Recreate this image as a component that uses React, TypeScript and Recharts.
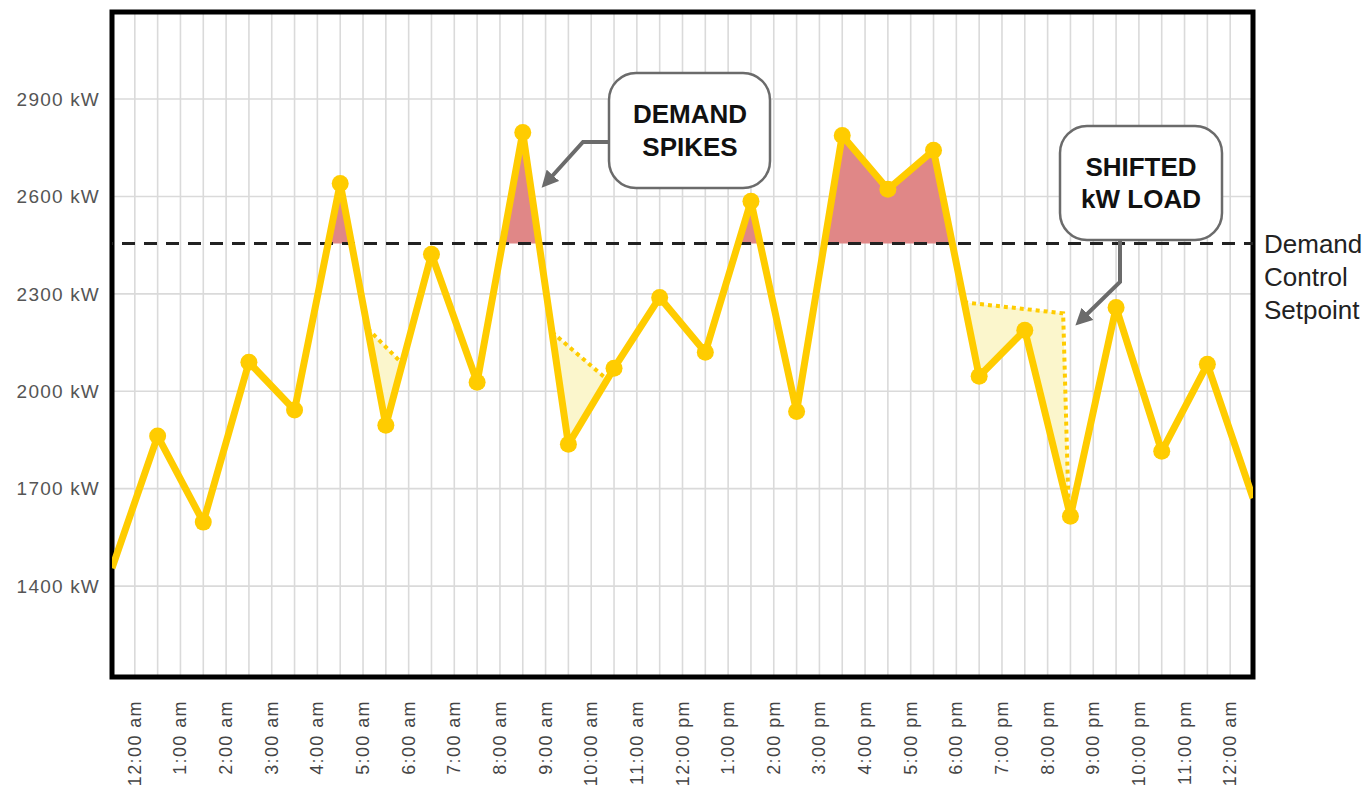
import {
  ComposedChart,
  Line,
  Area,
  XAxis,
  YAxis,
  CartesianGrid,
  ReferenceLine,
  ReferenceArea,
} from "recharts";

const HOURS = [
  "12:00 am", "1:00 am", "2:00 am", "3:00 am", "4:00 am", "5:00 am", "6:00 am",
  "7:00 am", "8:00 am", "9:00 am", "10:00 am", "11:00 am", "12:00 pm", "1:00 pm",
  "2:00 pm", "3:00 pm", "4:00 pm", "5:00 pm", "6:00 pm", "7:00 pm", "8:00 pm",
  "9:00 pm", "10:00 pm", "11:00 pm", "12:00 am",
];

// one reading per hour, on the half hour between the labels
const LOAD_KW = [
  1455, 1862, 1597, 2089, 1942, 2640, 1895, 2422, 2028, 2797, 1837, 2071, 2289,
  2120, 2585, 1938, 2788, 2622, 2742, 2046, 2188, 1615, 2258, 1815, 2083, 1671,
];

const SETPOINT_KW = 2455;
const Y_TICKS = [1400, 1700, 2000, 2300, 2600, 2900];
const Y_DOMAIN = [1120, 3168];

// load above the setpoint
const SPIKE_1 = [{ x: 4.735, kw: 2455 }, { x: 5, kw: 2640 }, { x: 5.248, kw: 2455 }];
const SPIKE_2 = [{ x: 8.555, kw: 2455 }, { x: 9, kw: 2797 }, { x: 9.356, kw: 2455 }];
const SPIKE_3 = [{ x: 13.72, kw: 2455 }, { x: 14, kw: 2585 }, { x: 14.2, kw: 2455 }];
const SPIKE_4 = [
  { x: 15.608, kw: 2455 }, { x: 16, kw: 2788 }, { x: 17, kw: 2622 },
  { x: 18, kw: 2742 }, { x: 18.412, kw: 2455 },
];

// shifted load: dotted edge + filled band
const SHIFT_1_EDGE = [{ x: 5.6, kw: 2193 }, { x: 6.36, kw: 2085 }];
const SHIFT_1_BAND = [
  { x: 5.6, band: [2193, 2193] }, { x: 6, band: [1895, 2136] }, { x: 6.36, band: [2085, 2085] },
];
const SHIFT_2_EDGE = [{ x: 9.64, kw: 2182 }, { x: 10.85, kw: 2036 }];
const SHIFT_2_BAND = [
  { x: 9.64, band: [2182, 2182] }, { x: 10, band: [1837, 2139] }, { x: 10.85, band: [2036, 2036] },
];
const SHIFT_3_EDGE = [{ x: 18.67, kw: 2274 }, { x: 20.84, kw: 2240 }, { x: 20.96, kw: 1638 }];
const SHIFT_3_BAND = [
  { x: 18.67, band: [2274, 2274] }, { x: 19, band: [2046, 2269] }, { x: 20, band: [2188, 2253] },
  { x: 20.84, band: [1707, 2240] }, { x: 20.96, band: [1638, 1638] },
];

const YELLOW = "#FFCC00";
const SPIKE_FILL = "#E08787";
const SHIFT_FILL = "#FBF6CC";
const FONT = "'Liberation Sans', Arial, Helvetica, sans-serif";

const data = LOAD_KW.map((kw, i) => ({ x: i, kw }));
const xTicks = HOURS.map((_, i) => i + 0.5);
const xGrid = HOURS.flatMap((_, i) => (i === 0 ? [0.5] : [i, i + 0.5]));

const HourTick = ({ x, y, payload }: any) => (
  <text
    x={x}
    y={y}
    transform={`rotate(-90 ${x} ${y})`}
    textAnchor="end"
    dominantBaseline="central"
    fill="#444"
    fontSize={18}
    letterSpacing={1.4}
    fontFamily={FONT}
  >
    {HOURS[Math.floor(payload.value)]}
  </text>
);

const LoadDot = (props: any) => {
  const { cx, cy, index } = props;
  if (index === 0 || index === LOAD_KW.length - 1) return <g key={`d${index}`} />;
  return <circle key={`d${index}`} cx={cx} cy={cy} r={8.5} fill={YELLOW} />;
};

const SetpointLabel = ({ viewBox }: any) => {
  const x = viewBox.x + viewBox.width + 11;
  const y = viewBox.y;
  return (
    <text x={x} y={y} fill="#222" fontSize={26} fontFamily={FONT} dominantBaseline="central">
      <tspan x={x} dy={0}>Demand</tspan>
      <tspan x={x} dy={33}>Control</tspan>
      <tspan x={x} dy={33}>Setpoint</tspan>
    </text>
  );
};

function Callouts() {
  const box = { fill: "#fff", stroke: "#6b6b6b", strokeWidth: 2.5 };
  const txt = {
    fontFamily: FONT,
    fontWeight: 700,
    fontSize: 26,
    fill: "#111",
    textAnchor: "middle" as const,
    dominantBaseline: "central" as const,
  };
  return (
    <svg
      width={1371}
      height={796}
      style={{ position: "absolute", left: 0, top: 0, pointerEvents: "none" }}
    >
      <defs>
        <marker id="head" viewBox="0 0 10 10" refX="7" refY="5" markerWidth="4.2" markerHeight="4.2" orient="auto">
          <path d="M0,0 L10,5 L0,10 z" fill="#6b6b6b" />
        </marker>
      </defs>
      <polyline
        points="609,142 583,142 545,184"
        fill="none"
        stroke="#6b6b6b"
        strokeWidth={4}
        markerEnd="url(#head)"
      />
      <rect x={609} y={73} width={161} height={115} rx={27} {...box} />
      <text x={690} y={114} {...txt}>DEMAND</text>
      <text x={690} y={147} {...txt}>SPIKES</text>

      <polyline
        points="1120,240 1120,282 1079,322"
        fill="none"
        stroke="#6b6b6b"
        strokeWidth={4}
        markerEnd="url(#head)"
      />
      <rect x={1060} y={126} width={162} height={114} rx={27} {...box} />
      <text x={1141} y={167} {...txt}>SHIFTED</text>
      <text x={1141} y={199} {...txt}>kW LOAD</text>
    </svg>
  );
}

export default function App() {
  return (
    <div style={{ position: "absolute", left: 0, top: 0, width: 1371, height: 796, background: "#fff" }}>
      <ComposedChart
        width={1371}
        height={796}
        data={data}
        margin={{ top: 12, right: 118, left: 0, bottom: 0 }}
      >
        <CartesianGrid
          stroke="#dadada"
          strokeWidth={1.6}
          horizontalValues={Y_TICKS}
          verticalValues={xGrid}
        />
        <XAxis
          dataKey="x"
          type="number"
          domain={[0, 25]}
          ticks={xTicks}
          interval={0}
          axisLine={false}
          tickLine={false}
          tickSize={0}
          tickMargin={23}
          height={119}
          tick={<HourTick />}
          allowDataOverflow
        />
        <YAxis
          type="number"
          domain={Y_DOMAIN}
          ticks={Y_TICKS}
          interval={0}
          axisLine={false}
          tickLine={false}
          tickSize={0}
          tickMargin={12}
          width={112}
          allowDataOverflow
          tickFormatter={(v) => `${v} kW`}
          tick={{ fill: "#555", fontSize: 19, fontFamily: FONT, letterSpacing: 1.2 }}
        />

        {[SPIKE_1, SPIKE_2, SPIKE_3, SPIKE_4].map((s, i) => (
          <Area
            key={`spike${i}`}
            data={s}
            dataKey="kw"
            type="linear"
            baseValue={SETPOINT_KW}
            fill={SPIKE_FILL}
            fillOpacity={1}
            stroke="none"
            isAnimationActive={false}
          />
        ))}
        {[SHIFT_1_BAND, SHIFT_2_BAND, SHIFT_3_BAND].map((s, i) => (
          <Area
            key={`band${i}`}
            data={s}
            dataKey="band"
            type="linear"
            fill={SHIFT_FILL}
            fillOpacity={1}
            stroke="none"
            isAnimationActive={false}
          />
        ))}

        <ReferenceLine
          y={SETPOINT_KW}
          stroke="#222"
          strokeWidth={3}
          strokeDasharray="13 9"
          strokeDashoffset={-10}
          label={<SetpointLabel />}
          ifOverflow="visible"
        />

        {[SHIFT_1_EDGE, SHIFT_2_EDGE, SHIFT_3_EDGE].map((s, i) => (
          <Line
            key={`edge${i}`}
            data={s}
            dataKey="kw"
            type="linear"
            stroke={YELLOW}
            strokeWidth={4}
            strokeDasharray="4 4"
            dot={false}
            activeDot={false}
            isAnimationActive={false}
          />
        ))}

        <Line
          dataKey="kw"
          type="linear"
          stroke={YELLOW}
          strokeWidth={7}
          strokeLinejoin="round"
          dot={<LoadDot />}
          activeDot={false}
          isAnimationActive={false}
        />

        <ReferenceArea
          x1={0}
          x2={25}
          y1={Y_DOMAIN[0]}
          y2={Y_DOMAIN[1]}
          fill="none"
          stroke="#000"
          strokeWidth={5}
          ifOverflow="visible"
        />
      </ComposedChart>
      <Callouts />
    </div>
  );
}
